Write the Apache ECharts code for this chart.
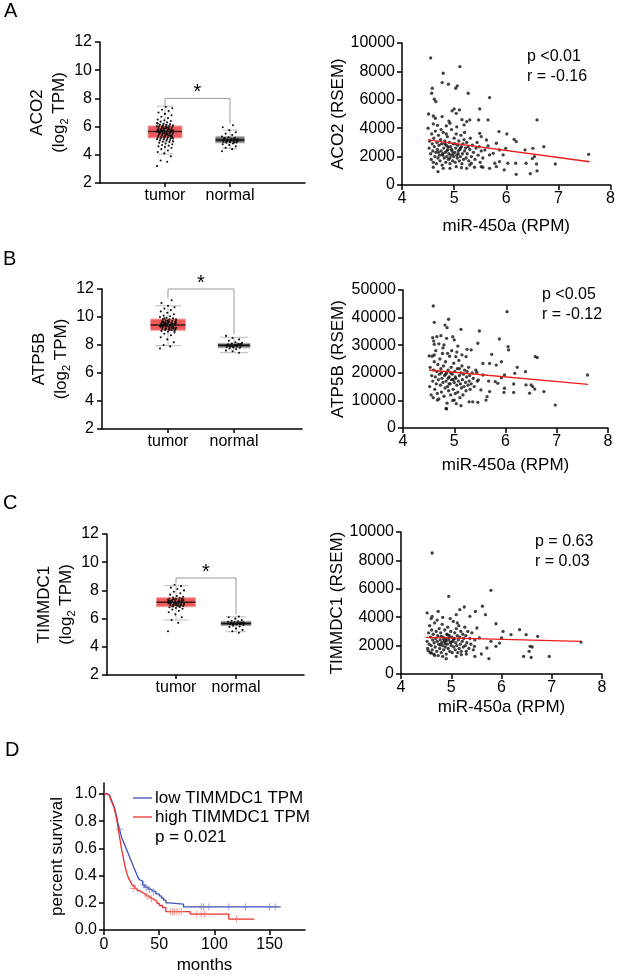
<!DOCTYPE html>
<html><head><meta charset="utf-8">
<script src="https://cdn.jsdelivr.net/npm/echarts@6/dist/echarts.min.js"></script>
<style>html,body{margin:0;padding:0;background:#fff}#c{width:618px;height:975px}</style>
</head><body><div id="c"></div><script>
const FONT = '"Liberation Sans", Arial, Helvetica, sans-serif';

// ---------- box plot data ----------
const boxCategories = ['tumor', 'normal'];
// [low whisker, q1, median, q3, high whisker]
const aco2TumorBox = [4.05, 5.2, 5.65, 6.05, 7.45];
const aco2NormalBox = [4.45, 4.85, 5.05, 5.28, 5.75];
const atp5bTumorBox = [7.95, 9.05, 9.42, 9.85, 10.8];
const atp5bNormalBox = [7.45, 7.8, 7.98, 8.12, 8.55];
const timmdc1TumorBox = [5.9, 6.84, 7.16, 7.48, 8.33];
const timmdc1NormalBox = [5.07, 5.5, 5.65, 5.81, 6.13];

const aco2TumorPts = [3.2,3.5,3.6,3.9,4.1,4.2,4.3,4.4,4.5,4.55,4.6,4.65,4.7,4.75,4.8,4.85,4.9,4.92,4.95,5.0,5.02,5.05,5.08,5.1,5.12,5.15,5.18,5.2,5.22,5.25,5.27,5.3,5.32,5.35,5.37,5.4,5.42,5.45,5.47,5.5,5.52,5.55,5.57,5.6,5.62,5.64,5.66,5.68,5.7,5.72,5.75,5.77,5.8,5.82,5.85,5.87,5.9,5.92,5.95,5.97,6.0,6.02,6.05,6.08,6.1,6.12,6.15,6.18,6.2,6.25,6.3,6.35,6.4,6.45,6.5,6.6,6.7,6.8,6.9,7.0,7.1,7.2,7.3,7.4,5.58,5.63,5.69,5.74,5.48,5.53,5.36,5.88,6.03,5.45,5.78,5.61,5.29,6.22,5.94,5.66,5.33,5.51,5.71,5.83,5.99,5.26,5.41,5.59,5.79,6.07,5.16,5.91,5.65,5.55,5.73];
const aco2NormalPts = [4.25,4.4,4.5,4.6,4.7,4.75,4.8,4.85,4.88,4.9,4.92,4.95,4.97,5.0,5.02,5.04,5.06,5.08,5.1,5.13,5.16,5.2,5.25,5.3,5.4,5.5,5.6,5.75,5.95,6.1,4.98,5.01,4.93,5.05,5.12,5.03,4.96,5.09,5.18,4.87];
const atp5bTumorPts = [7.75,7.9,8.0,8.2,8.4,8.55,8.7,8.8,8.9,8.95,9.0,9.05,9.08,9.1,9.13,9.15,9.18,9.2,9.22,9.25,9.27,9.3,9.32,9.35,9.37,9.4,9.42,9.44,9.46,9.48,9.5,9.52,9.55,9.57,9.6,9.62,9.65,9.68,9.7,9.73,9.76,9.8,9.83,9.86,9.9,9.95,10.0,10.05,10.1,10.2,10.3,10.4,10.5,10.6,10.7,10.8,11.0,11.2,9.38,9.41,9.33,9.45,9.28,9.52,9.6,9.12,9.7,9.23,9.5,9.36,9.44,9.58,9.19,9.66,9.31,9.47,9.9,9.02,9.75,9.39,9.26,9.43,9.54,9.64,9.34,9.49,9.16,9.81,9.07,9.62];
const atp5bNormalPts = [7.45,7.55,7.6,7.7,7.75,7.8,7.82,7.85,7.88,7.9,7.92,7.94,7.95,7.97,7.99,8.0,8.02,8.05,8.08,8.1,8.15,8.2,8.3,8.4,8.5,8.65,7.96,7.93,8.01,7.87,7.98,8.03,7.91,8.06];
const timmdc1TumorPts = [5.1,5.7,5.9,6.1,6.3,6.45,6.55,6.65,6.7,6.75,6.8,6.83,6.86,6.9,6.93,6.96,7.0,7.02,7.05,7.07,7.1,7.12,7.14,7.16,7.18,7.2,7.22,7.25,7.27,7.3,7.33,7.36,7.4,7.43,7.46,7.5,7.55,7.6,7.7,7.8,7.9,8.0,8.1,8.2,8.3,8.4,7.15,7.08,7.19,7.24,6.98,7.11,7.28,6.88,7.35,7.03,7.13,7.21,6.95,7.31,7.06,7.17,6.91,7.38,7.01,7.09,7.26,6.99,7.14,7.34,6.92,7.2,7.42,7.04,7.23];
const timmdc1NormalPts = [5.0,5.1,5.2,5.3,5.4,5.45,5.5,5.55,5.58,5.6,5.62,5.64,5.66,5.68,5.7,5.72,5.75,5.78,5.8,5.85,5.9,6.0,6.1,6.15,5.63,5.67,5.61,5.65,5.69,5.59,5.73];
// level of significance bracket (log2 TPM)
const bracketLevels = [8.0, 12.0, 8.88];

// ---------- scatter data: [miR-450a RPM, RSEM] ----------
const aco2Scatter = [
[4.55,8950],[5.11,8340],[4.79,7870],[4.77,7210],[4.89,7100],[5.06,6980],[5.03,6815],[4.58,6815],[4.57,6460],[5.27,6460],
[4.62,6040],[4.65,5875],[5.68,6160],[5.0,5360],[4.96,5220],[5.1,5290],[5.49,5360],[4.51,5000],[4.6,4860],[4.64,4700],
[4.77,4820],[5.04,5050],[5.3,4580],[5.24,4470],[5.47,4580],[5.65,4580],[6.59,4580],[4.5,4000],[4.92,4350],[4.85,4160],
[5.19,4230],[5.86,3760],[6.01,3600],[5.49,3640],[5.52,3410],[6.15,3220],[6.19,3060],[6.72,2700],[6.51,2585],[6.36,2470],
[7.58,2160],[6.54,2000],[6.5,1860],[6.38,1530],[6.94,1480],[6.58,1480],[6.18,1530],[6.03,1530],[5.96,1060],[6.19,750],
[6.46,800],[6.59,990],[5.81,1290],[5.78,1530],[5.87,1650],[5.68,1175],[5.55,1250],[5.52,1290],[5.68,2115],[5.75,2230],
[5.87,2470],[5.99,2585],[5.94,2115],[5.62,3170],[5.65,2750],[5.81,2940],[5.59,2470],[4.6,1250],[4.69,940],[4.79,1175],
[4.92,1175],[5.04,1290],[5.14,1220],[5.3,1410],[5.39,1250],[5.24,1175],[5.33,1530],
[4.52,2600],[4.53,3100],[4.55,2200],[4.56,1800],[4.57,3600],[4.58,2900],[4.59,2400],[4.6,1600],[4.61,3300],[4.62,2700],
[4.63,2000],[4.64,3800],[4.65,2300],[4.66,1500],[4.67,3000],[4.68,2500],[4.69,1900],[4.7,3500],[4.71,2800],[4.72,2100],
[4.73,1700],[4.74,3200],[4.75,2400],[4.76,2900],[4.77,1400],[4.78,2200],[4.79,3700],[4.8,2600],[4.81,1900],[4.82,3100],
[4.83,2300],[4.84,1600],[4.85,2800],[4.86,2000],[4.87,3400],[4.88,2500],[4.89,1800],[4.9,2200],[4.91,3000],[4.92,1500],
[4.93,2700],[4.94,2100],[4.95,3900],[4.96,2400],[4.97,1700],[4.98,2900],[4.99,2000],[5.0,3300],[5.01,2300],[5.02,1600],
[5.03,2600],[5.04,3600],[5.05,2100],[5.06,1900],[5.07,2800],[5.08,2400],[5.09,3100],[5.1,1700],[5.11,2500],[5.12,2000],
[5.13,3500],[5.14,2700],[5.15,1500],[5.16,2200],[5.17,2900],[5.18,1800],[5.19,3200],[5.2,2400],[5.22,2600],[5.23,1900],
[5.24,3000],[5.25,2200],[5.27,2700],[5.28,1700],[5.3,2500],[5.31,3300],[5.33,2000],[5.35,2800],[5.37,2300],[5.4,1800],
[5.42,2600],[5.44,3000],[5.46,2100],[5.48,2700],[5.5,1600],[5.52,2400],[5.55,1900],[4.75,3900],[4.85,3600],[5.05,4100],
[4.68,4200],[4.9,4500],[5.2,3700],[4.6,4300],[5.15,4600],[4.82,2900],[4.88,2700],[4.95,2500],[4.78,2100],[5.02,2900],
[4.92,1900],[5.08,2200],[4.7,2300],[4.86,2400],[4.98,2200],[5.12,2600]];
const aco2Fit = [[4.5,3180],[7.6,1640]];

const atp5bScatter = [
[4.59,44200],[6.03,42150],[4.61,38300],[4.89,39400],[4.82,37300],[4.86,36350],[5.13,35750],[5.49,35150],[4.58,32700],[4.66,33100],
[4.74,33450],[4.97,33100],[5.88,32250],[4.61,30300],[4.8,30100],[5.0,31900],[5.07,29700],[5.46,30700],[6.05,29500],[6.06,28300],
[4.51,26100],[4.61,26450],[4.87,27050],[5.03,25850],[5.23,25850],[5.33,28300],[5.73,26700],[6.58,25850],[6.62,25500],[5.56,23400],
[5.69,23400],[5.82,22800],[5.92,24000],[6.23,22000],[6.18,19800],[6.39,20400],[5.98,19200],[5.92,18200],[7.6,19200],[5.67,17000],
[5.8,16800],[5.85,16200],[6.16,15950],[6.4,15600],[6.5,15600],[6.53,15000],[5.98,14400],[5.97,12900],[6.16,12900],[6.47,12600],
[6.57,14100],[6.75,13200],[6.97,8300],[5.29,9500],[5.36,9500],[5.46,9300],[5.62,10100],[5.13,8100],[5.0,10100],[4.84,7100],
[4.67,10100],[4.85,6900],[5.52,13800],[5.69,13200],[5.64,11400],[5.47,17400],[5.56,19200],[5.44,20200],
[4.52,15000],[4.53,22000],[4.55,12000],[4.56,19000],[4.57,26000],[4.58,17000],[4.59,11000],[4.6,21000],[4.61,24000],[4.62,14000],
[4.63,18500],[4.64,28000],[4.65,16000],[4.66,20500],[4.67,12500],[4.68,23000],[4.69,17500],[4.7,10500],[4.71,19500],[4.72,25000],
[4.73,15500],[4.74,21500],[4.75,13000],[4.76,18000],[4.77,27000],[4.78,16500],[4.79,22500],[4.8,11500],[4.81,19000],[4.82,14500],
[4.83,24000],[4.84,17000],[4.85,20000],[4.86,9000],[4.87,15000],[4.88,21000],[4.89,13500],[4.9,18500],[4.91,26000],[4.92,16000],
[4.93,12000],[4.94,22000],[4.95,17500],[4.96,19500],[4.97,10000],[4.98,14000],[4.99,23500],[5.0,16500],[5.01,20500],[5.02,12500],
[5.03,18000],[5.04,8800],[5.05,15500],[5.06,21500],[5.07,13000],[5.08,17000],[5.09,24500],[5.1,19000],[5.11,11000],[5.12,16000],
[5.13,20000],[5.14,14500],[5.15,22500],[5.16,17500],[5.17,12000],[5.18,19500],[5.19,15000],[5.2,21000],[5.22,16500],[5.23,13500],
[5.24,18500],[5.25,20500],[5.27,15500],[5.28,22000],[5.29,17000],[5.3,19000],[5.31,14000],[5.33,16000],[5.35,20000],[5.37,18000],
[5.39,15000],[5.42,21000],[5.45,17000],[4.7,30500],[4.78,29000],[4.95,28000],[5.05,27500],[5.15,26500],[4.6,31500],[4.85,32500],
[5.25,28500],[4.88,18000],[4.93,20000],[4.98,17500],[4.83,19500],[5.02,18500],[4.9,16000],[4.75,20000],[5.1,21500]];
const atp5bFit = [[4.51,21000],[7.61,15800]];

const timmdc1Scatter = [
[4.62,8520],[5.79,5890],[4.95,5470],[5.62,4770],[5.26,4720],[5.17,4530],[4.52,4300],[4.74,4410],[4.62,4060],[5.48,4410],
[5.68,4180],[5.1,4180],[5.37,4060],[4.83,3990],[5.89,3540],[6.03,3000],[6.36,3120],[6.49,2770],[6.72,2650],[6.19,2770],
[7.58,2250],[6.57,1950],[6.61,1900],[6.44,1240],[6.59,1170],[6.95,1240],[6.55,1600],[5.75,1080],[5.47,1240],[5.6,1410],
[6.0,2540],[5.96,2180],[5.89,1950],[5.79,2300],[5.71,1830],[5.51,3240],[5.56,2540],[5.46,1950],[5.2,1360],[5.3,1600],
[5.1,1240],[4.9,1080],[4.83,1240],[4.6,1480],[4.54,1640],[4.67,1310],
[4.52,2300],[4.53,1800],[4.55,2900],[4.56,2100],[4.57,3400],[4.58,1500],[4.59,2600],[4.6,2000],[4.61,3100],[4.62,1700],
[4.63,2400],[4.64,2800],[4.65,1400],[4.66,2200],[4.67,3600],[4.68,1900],[4.69,2500],[4.7,3000],[4.71,1600],[4.72,2300],
[4.73,2700],[4.74,1300],[4.75,2100],[4.76,3200],[4.77,1800],[4.78,2400],[4.79,2900],[4.8,1500],[4.81,2200],[4.82,3500],
[4.83,2000],[4.84,2600],[4.85,1700],[4.86,2300],[4.87,3100],[4.88,1900],[4.89,2500],[4.9,1400],[4.91,2800],[4.92,2100],
[4.93,3300],[4.94,1800],[4.95,2400],[4.96,2700],[4.97,1600],[4.98,2200],[4.99,3000],[5.0,2000],[5.01,2600],[5.02,1500],
[5.03,2300],[5.04,3700],[5.05,1900],[5.06,2500],[5.07,2900],[5.08,1700],[5.09,2200],[5.1,3200],[5.11,2000],[5.12,2700],
[5.13,1500],[5.14,2400],[5.15,3400],[5.16,1800],[5.17,2600],[5.18,2100],[5.19,3000],[5.2,1600],[5.22,2300],[5.23,2800],
[5.24,1900],[5.25,2500],[5.27,3300],[5.28,2000],[5.29,2700],[5.3,1400],[5.31,2200],[5.33,3000],[5.35,1800],[5.37,2500],
[5.39,2100],[5.41,2900],[5.44,1700],[5.47,2400],[4.85,2450],[4.9,2350],[4.95,2550],[4.8,2650],[5.0,2250],[4.88,2150],
[4.93,2750],[4.78,2050],[5.05,2450],[4.72,3800],[4.98,3900],[5.12,3600],[4.6,3900]];
const timmdc1Fit = [[4.5,2580],[7.58,2300]];

// ---------- survival data: [months, survival] ----------
const lowSurv = [[0,1],[3,1],[4,0.99],[5,0.98],[6,0.97],[7,0.95],[8,0.93],[9,0.91],[10,0.88],[11,0.85],[12,0.81],[13,0.77],[14,0.74],[15,0.71],[16,0.68],[17,0.66],[18,0.64],[19,0.62],[20,0.6],[21,0.58],[22,0.56],[23,0.54],[24,0.52],[25,0.5],[26,0.48],[27,0.46],[28,0.44],[29,0.42],[30,0.4],[31,0.385],[32,0.37],[33,0.36],[35,0.33],[37,0.315],[40,0.3],[42,0.29],[44,0.28],[47,0.265],[50,0.25],[52,0.235],[54,0.22],[56,0.2],[59,0.19],[72,0.17],[160,0.17]];
const highSurv = [[0,1],[3,1],[4,0.99],[5,0.98],[6,0.96],[7,0.94],[8,0.92],[9,0.9],[10,0.87],[11,0.83],[12,0.79],[13,0.74],[14,0.69],[15,0.64],[16,0.59],[17,0.55],[18,0.51],[19,0.47],[20,0.44],[21,0.41],[22,0.385],[23,0.37],[24,0.355],[25,0.34],[26,0.325],[28,0.305],[30,0.29],[32,0.28],[34,0.27],[36,0.26],[38,0.25],[40,0.24],[42,0.23],[44,0.22],[46,0.21],[48,0.195],[50,0.18],[53,0.165],[56,0.135],[78,0.117],[113,0.08],[136,0.08]];
const lowCensor = [[14,0.74],[36,0.33],[38,0.315],[41,0.3],[45,0.28],[88,0.17],[90,0.17],[95,0.17],[113,0.17],[128,0.17],[150,0.17],[155,0.17]];
const highCensor = [[27,0.305],[39,0.25],[43,0.23],[60,0.135],[62,0.135],[64,0.135],[66,0.135],[68,0.135],[70,0.135],[84,0.117],[88,0.117],[91,0.117],[120,0.08]];
const survYTicks = [0, 0.2, 0.4, 0.6, 0.8, 1.0];
const survXTicks = [0, 50, 100, 150];

// ---------- layout ----------
const grids = [
  {left:100, top:42, width:205, height:141},
  {left:402, top:43, width:209, height:142},
  {left:102, top:289, width:200, height:140},
  {left:403, top:290, width:205, height:138},
  {left:107, top:534, width:197, height:141},
  {left:401, top:532, width:201, height:142},
  {left:104, top:783, width:201, height:148}
];
const AX = {color:'#000', width:1.5};
function baseAxis(gi, extra) {
  const a = {
    type:'value', gridIndex:gi,
    axisLine:{show:true, onZero:false, lineStyle:AX},
    axisTick:{show:true, length:5, lineStyle:AX},
    axisLabel:{color:'#000', fontSize:16, fontFamily:FONT, margin:6, formatter:v => String(v)},
    splitLine:{show:false},
    nameTextStyle:{color:'#000', fontSize:17, fontFamily:FONT},
    nameLocation:'middle'
  };
  for (const k in extra) {
    if (typeof extra[k] === 'object' && !Array.isArray(extra[k]) && a[k]) a[k] = Object.assign({}, a[k], extra[k]);
    else a[k] = extra[k];
  }
  return a;
}
const boxPanels = [
  {g:0, gene:'ACO2', tBox:aco2TumorBox, nBox:aco2NormalBox, tPts:aco2TumorPts, nPts:aco2NormalPts, lvl:bracketLevels[0], xmin:0, xmax:205/65,
   styles:[{half:17, cap:8}, {half:14.5, cap:7}]},
  {g:2, gene:'ATP5B', tBox:atp5bTumorBox, nBox:atp5bNormalBox, tPts:atp5bTumorPts, nPts:atp5bNormalPts, lvl:bracketLevels[1], xmin:0, xmax:200/66,
   styles:[{half:17.5, cap:13}, {half:16, cap:14}]},
  {g:4, gene:'TIMMDC1', tBox:timmdc1TumorBox, nBox:timmdc1NormalBox, tPts:timmdc1TumorPts, nPts:timmdc1NormalPts, lvl:bracketLevels[2], xmin:-0.15, xmax:-0.15+197/60,
   styles:[{half:19.5, cap:12}, {half:15, cap:10}]}
];
const boxColors = [
  {fill:'#f05a5a', stroke:'#f2a3a3', median:'#3a1a1a', whisker:'#bdbdbd'},
  {fill:'#6c6c6c', stroke:'#b0b0b0', median:'#111', whisker:'#bdbdbd'}
];
const scatterPanels = [
  {g:1, name:'ACO2 (RSEM)', pts:aco2Scatter, fit:aco2Fit, ymax:10000, step:2000, gap:53, xgap:33},
  {g:3, name:'ATP5B (RSEM)', pts:atp5bScatter, fit:atp5bFit, ymax:50000, step:10000, gap:56, xgap:29},
  {g:5, name:'TIMMDC1 (RSEM)', pts:timmdc1Scatter, fit:timmdc1Fit, ymax:10000, step:2000, gap:55, xgap:25}
];

const xAxes = [], yAxes = [], series = [];

boxPanels.forEach(p => {
  xAxes[p.g] = baseAxis(p.g, {
    min:p.xmin, max:p.xmax,
    axisTick:{customValues:[1,2], length:4},
    axisLabel:{customValues:[1,2], formatter:v => boxCategories[Math.round(v)-1], margin:5}
  });
  yAxes[p.g] = baseAxis(p.g, {
    min:2, max:12, interval:2,
    name:p.gene + '\n(log{sub|2} TPM)', nameGap:23,
    nameTextStyle:{lineHeight:22, rich:{sub:{fontSize:11, fontFamily:FONT, color:'#000', verticalAlign:'bottom', padding:[9,0,0,0]}}},
    axisLabel:{margin:8}
  });
  const styles = p.styles.map((s, i) => Object.assign({}, s, boxColors[i]));
  series.push({
    type:'custom', xAxisIndex:p.g, yAxisIndex:p.g, z:2,
    data:[[1].concat(p.tBox), [2].concat(p.nBox)],
    encode:{x:0, y:[1,2,3,4,5]},
    renderItem:function (params, api) {
      const st = styles[params.dataIndex];
      const c = api.value(0);
      const cx = api.coord([c, 5])[0];
      const y = k => api.coord([c, api.value(k)])[1];
      const lo = y(1), q1 = y(2), md = y(3), q3 = y(4), hi = y(5);
      return {type:'group', children:[
        {type:'line', shape:{x1:cx, y1:hi, x2:cx, y2:lo}, style:{stroke:st.whisker, lineWidth:1}},
        {type:'line', shape:{x1:cx-st.cap, y1:hi, x2:cx+st.cap, y2:hi}, style:{stroke:st.whisker, lineWidth:1}},
        {type:'line', shape:{x1:cx-st.cap, y1:lo, x2:cx+st.cap, y2:lo}, style:{stroke:st.whisker, lineWidth:1}},
        {type:'rect', shape:{x:cx-st.half, y:q3, width:2*st.half, height:q1-q3}, style:{fill:st.fill, stroke:st.stroke, lineWidth:1}},
        {type:'line', shape:{x1:cx-st.half, y1:md, x2:cx+st.half, y2:md}, style:{stroke:st.median, lineWidth:1.5}}
      ]};
    }
  });
  const jdata = p.tPts.map(v => [1, v]).concat(p.nPts.map(v => [2, v]));
  series.push({
    type:'custom', xAxisIndex:p.g, yAxisIndex:p.g, z:3,
    data:jdata, encode:{x:0, y:1},
    renderItem:function (params, api) {
      const pt = api.coord([api.value(0), api.value(1)]);
      const j = (((params.dataIndex * 37) % 23) / 22 - 0.5) * 2;
      return {type:'circle', shape:{cx:pt[0] + j * 8, cy:pt[1], r:1.05}, style:{fill:'#111'}};
    }
  });
  const tMax = Math.max.apply(null, p.tPts), nMax = Math.max.apply(null, p.nPts);
  series.push({
    type:'custom', xAxisIndex:p.g, yAxisIndex:p.g, z:4,
    data:[[1.5, p.lvl]], encode:{x:0, y:1},
    renderItem:function (params, api) {
      const lvl = api.value(1);
      const a = api.coord([1, lvl]), b = api.coord([2, lvl]);
      const la = api.coord([1, Math.min(tMax + 0.12, lvl - 0.3)]);
      const rb = api.coord([2, nMax + 0.12]);
      return {type:'group', children:[
        {type:'polyline', shape:{points:[[a[0], la[1]], a, b, [b[0], rb[1]]]}, style:{stroke:'#9a9a9a', lineWidth:1, fill:null}},
        {type:'text', style:{text:'*', x:(a[0]+b[0])/2, y:a[1]-6, font:'20px ' + FONT, fill:'#000', align:'center', verticalAlign:'middle'}}
      ]};
    }
  });
});

scatterPanels.forEach(p => {
  xAxes[p.g] = baseAxis(p.g, {
    min:4, max:8, interval:1, name:'miR-450a (RPM)', nameGap:p.xgap
  });
  yAxes[p.g] = baseAxis(p.g, {
    min:0, max:p.ymax, interval:p.step, name:p.name, nameGap:p.gap, axisLabel:{margin:7}
  });
  series.push({type:'scatter', xAxisIndex:p.g, yAxisIndex:p.g, data:p.pts, symbolSize:3.3,
    itemStyle:{color:'#111'}, z:2, silent:true});
  series.push({type:'line', xAxisIndex:p.g, yAxisIndex:p.g, data:p.fit, showSymbol:false,
    lineStyle:{color:'#ee1c1c', width:1.4}, z:3, silent:true});
});

// survival panel
xAxes[6] = baseAxis(6, {
  min:0, max:182, name:'months', nameGap:27,
  axisTick:{customValues:survXTicks}, axisLabel:{customValues:survXTicks, margin:7}
});
yAxes[6] = baseAxis(6, {
  min:0, max:1.08, name:'percent survival', nameGap:38,
  axisTick:{customValues:survYTicks}, axisLabel:{customValues:survYTicks, formatter:v => v.toFixed(1), margin:7}
});
const crossSym = 'path://M-0.12,-1H0.12V-0.12H1V0.12H0.12V1H-0.12V0.12H-1V-0.12H-0.12Z';
series.push({type:'line', xAxisIndex:6, yAxisIndex:6, data:lowSurv, step:'end', showSymbol:false,
  lineStyle:{color:'#3f4fb8', width:1.3}, z:3, silent:true});
series.push({type:'line', xAxisIndex:6, yAxisIndex:6, data:highSurv, step:'end', showSymbol:false,
  lineStyle:{color:'#f0302a', width:1.3}, z:4, silent:true});
series.push({type:'scatter', xAxisIndex:6, yAxisIndex:6, data:lowCensor, symbol:crossSym, symbolSize:7,
  itemStyle:{color:'#6f7cc8'}, z:3, silent:true});
series.push({type:'scatter', xAxisIndex:6, yAxisIndex:6, data:highCensor, symbol:crossSym, symbolSize:7,
  itemStyle:{color:'#f36a66'}, z:4, silent:true});

function txt(x, y, s, size, va) {
  return {type:'text', x:x, y:y, style:{text:s, font:size + 'px ' + FONT, fill:'#000', verticalAlign:va || 'middle'}};
}
const graphic = [
  txt(4, 1, 'A', 20, 'top'), txt(3, 249, 'B', 20, 'top'), txt(3, 493, 'C', 20, 'top'), txt(5, 740, 'D', 20, 'top'),
  txt(527, 57, 'p <0.01', 16), txt(527, 77, 'r = -0.16', 16),
  txt(542, 295, 'p <0.05', 16), txt(542, 315, 'r = -0.12', 16),
  txt(535, 542, 'p = 0.63', 16), txt(535, 562, 'r = 0.03', 16),
  {type:'line', shape:{x1:133, y1:798, x2:152, y2:798}, style:{stroke:'#3f4fb8', lineWidth:1.3}},
  {type:'line', shape:{x1:133, y1:817, x2:152, y2:817}, style:{stroke:'#f0302a', lineWidth:1.3}},
  txt(155, 798, 'low TIMMDC1 TPM', 17), txt(155, 817, 'high TIMMDC1 TPM', 17), txt(155, 837, 'p = 0.021', 17)
];

const chart = echarts.init(document.getElementById('c'), null, {renderer:'canvas'});
chart.setOption({
  animation:false,
  backgroundColor:'#fff',
  textStyle:{fontFamily:FONT},
  grid:grids,
  xAxis:xAxes,
  yAxis:yAxes,
  series:series,
  graphic:graphic
});
</script></body></html>
